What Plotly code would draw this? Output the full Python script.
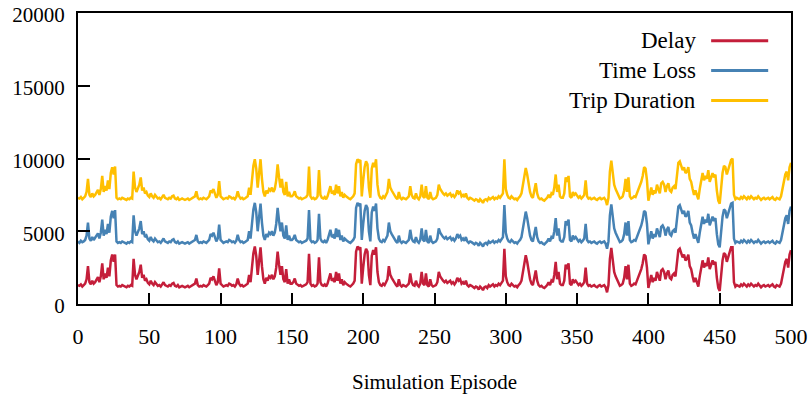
import plotly.graph_objects as go

episodes = list(range(0, 501))

delay = [
    1300, 1250, 1350, 1200, 1300, 1400, 1700, 2600, 1500, 1350,
    1600, 1400, 1500, 1700, 1850, 1500, 1900, 2800, 1700, 2100,
    1800, 2500, 1900, 3000, 3400, 2900, 3400, 1300, 1200, 1250,
    1200, 1300, 1250, 1200, 1150, 1250, 1200, 1300, 1250, 3100,
    2000, 1700, 1900, 2200, 2700, 1800, 2000, 1600, 1700, 1450,
    1350, 1600, 1400, 1300, 1500, 1350, 1250, 1300, 1200, 1350,
    1500, 1300, 1250, 1200, 1300, 1250, 1400, 1450, 1250, 1200,
    1300, 1150, 1200, 1250, 1200, 1150, 1200, 1250, 1150, 1200,
    1250, 1300, 1400, 1750, 1300, 1200, 1250, 1200, 1300, 1250,
    1200, 1300, 1400, 1800, 1700, 1900, 1600, 1300, 1500, 2450,
    1400, 1300, 1200, 1250, 1300, 1250, 1400, 1350, 1250, 1300,
    1200, 1350, 1750, 1400, 1250, 1300, 1200, 1250, 1300, 1400,
    2000, 1500, 2500, 3500, 3950, 3300, 2000, 3000, 3900, 2600,
    1700, 1400, 1800, 1600, 1900, 1800, 2000, 1700, 1900, 2500,
    3600, 2700, 2000, 2600, 1700, 1500, 2400, 1400, 1700, 1400,
    1400, 1500, 1750, 1400, 1300, 1250, 1300, 1200, 1250, 1300,
    1350, 1500, 3450, 1400, 1250, 1300, 1200, 1250, 1400, 3200,
    1500, 1300, 1250, 1350, 1200, 1400, 1800, 2100, 1600, 1700,
    1500, 2200, 1600, 2100, 1400, 1700, 1300, 1500, 1400, 1300,
    1250, 1200, 1300, 1400, 1600, 3600, 3950, 3800, 3900, 1400,
    2500, 3400, 3800, 3600, 2000, 1300, 3300, 3700, 3400, 3900,
    2200, 1500, 1300, 1250, 1400, 1300, 1500, 1700, 2600, 2000,
    1800, 1600, 1400, 1300, 1200, 1700, 1300, 1200, 1300, 1250,
    1200, 1300, 1400, 2100, 1500, 1300, 1250, 1600, 1300, 1200,
    1400, 2200, 1400, 1300, 2100, 1300, 1200, 1700, 1300, 1200,
    1250, 1300, 1500, 2200, 1900, 1700, 1600, 1500, 1600, 1450,
    1500, 1600, 1400, 1500, 1350, 1500, 1800, 1600, 1700, 1400,
    1500, 1350, 1600, 1300, 1200, 1300, 1250, 1200, 1100, 1200,
    1150, 1000, 1200, 1100, 950, 1150, 1200, 1100, 1300, 1200,
    1250, 1350, 1200, 1300, 1250, 1400, 1300, 1500, 1600, 3800,
    1900, 1500, 1300, 1250, 1400, 1300, 1200, 1250, 1150, 1300,
    1400, 1600, 2200, 3000, 3350, 2900, 2200, 1700, 1400, 1300,
    1800, 2300, 1600, 1300, 1200, 1250, 1150, 1100, 1200, 1300,
    1500, 1300, 1600, 1500, 2000, 2900, 1700, 2200, 1400, 1300,
    1300, 1600, 2700, 2400, 2800, 1400, 1300, 1700, 1500, 1600,
    1450, 1300, 1400, 1250, 1350, 1500, 2500, 1400, 1250, 1300,
    1200, 1250, 1300, 1200, 1150, 1250, 1300, 1200, 1250, 1300,
    1150, 800, 1300, 3100, 3850, 2800, 2200, 1900, 1700, 1400,
    1250, 1300, 1400, 1800, 2600, 1700, 2700, 1400, 1250, 1300,
    1400, 1350, 1600, 1900, 2200, 2400, 2800, 3400, 3300, 2500,
    1100, 1600, 2000, 1500, 1800, 1600, 2200, 1900, 1600, 2300,
    2400, 2200, 1700, 2100, 2300, 1800, 1700, 2000, 2100, 1900,
    3000, 3700, 3800, 3500, 3200, 3400, 3000, 3100, 3400, 2600,
    2400, 1900, 1500, 1800, 1400, 1200, 1900, 2400, 3000, 2500,
    2800, 2600, 3200, 2400, 2800, 3000, 2700, 2900, 1800, 1100,
    900, 2200, 3000, 3500, 3400, 2900, 3200, 3600, 3900, 3900,
    1500, 1200, 1300, 1250, 1200, 1350, 1250, 1400, 1300, 1200,
    1350, 1250, 1400, 1300, 1200, 1300, 1250, 1400, 1300, 1150,
    1250, 1300, 1200, 1250, 1300, 1200, 1250, 1350, 1200, 1150,
    1300, 1250, 1200, 1400, 2000, 2300, 2900, 3100, 2500, 3400,
    3700,
]

time_loss = [
    4300, 4200, 4350, 4250, 4300, 4400, 4700, 5600, 4500, 4350,
    4600, 4400, 4550, 4700, 4850, 4500, 4900, 5800, 4700, 5100,
    4800, 5500, 4900, 6000, 6400, 5900, 6450, 4300, 4200, 4250,
    4200, 4300, 4250, 4200, 4150, 4250, 4200, 4300, 4250, 6100,
    5000, 4700, 4900, 5200, 5700, 4800, 5000, 4600, 4700, 4450,
    4350, 4600, 4400, 4300, 4500, 4350, 4250, 4300, 4200, 4350,
    4500, 4300, 4250, 4200, 4300, 4250, 4400, 4450, 4250, 4200,
    4300, 4150, 4200, 4250, 4200, 4150, 4200, 4250, 4150, 4200,
    4250, 4300, 4400, 4750, 4300, 4200, 4250, 4200, 4300, 4250,
    4200, 4300, 4400, 4800, 4700, 4900, 4600, 4300, 4500, 5450,
    4400, 4300, 4200, 4250, 4300, 4250, 4400, 4350, 4250, 4300,
    4200, 4350, 4750, 4400, 4250, 4300, 4200, 4250, 4300, 4400,
    5000, 4500, 5500, 6500, 6950, 6300, 5000, 6000, 6900, 5600,
    4700, 4400, 4800, 4600, 4900, 4800, 5000, 4700, 4900, 5500,
    6600, 5700, 5000, 5600, 4700, 4500, 5400, 4400, 4700, 4400,
    4400, 4500, 4750, 4400, 4300, 4250, 4300, 4200, 4250, 4300,
    4350, 4500, 6450, 4400, 4250, 4300, 4200, 4250, 4400, 6200,
    4500, 4300, 4250, 4350, 4200, 4400, 4800, 5100, 4600, 4700,
    4500, 5200, 4600, 5100, 4400, 4700, 4300, 4500, 4400, 4300,
    4250, 4200, 4300, 4400, 4600, 6600, 6950, 6800, 6900, 4400,
    5500, 6400, 6800, 6600, 5000, 4300, 6300, 6700, 6400, 6900,
    5200, 4500, 4300, 4250, 4400, 4300, 4500, 4700, 5600, 5000,
    4800, 4600, 4400, 4300, 4200, 4700, 4300, 4200, 4300, 4250,
    4200, 4300, 4400, 5100, 4500, 4300, 4250, 4600, 4300, 4200,
    4400, 5200, 4400, 4300, 5100, 4300, 4200, 4700, 4300, 4200,
    4250, 4300, 4500, 5200, 4900, 4700, 4600, 4500, 4600, 4450,
    4500, 4600, 4400, 4500, 4350, 4500, 4800, 4600, 4700, 4400,
    4500, 4350, 4600, 4300, 4200, 4300, 4250, 4200, 4100, 4200,
    4150, 4000, 4200, 4100, 3950, 4150, 4200, 4100, 4300, 4200,
    4250, 4350, 4200, 4300, 4250, 4400, 4300, 4500, 4600, 6800,
    4900, 4500, 4300, 4250, 4400, 4300, 4200, 4250, 4150, 4300,
    4400, 4600, 5200, 6000, 6350, 5900, 5200, 4700, 4400, 4300,
    4800, 5300, 4600, 4300, 4200, 4250, 4150, 4100, 4200, 4300,
    4500, 4300, 4600, 4500, 5000, 5900, 4700, 5200, 4400, 4300,
    4300, 4600, 5700, 5400, 5800, 4400, 4300, 4700, 4500, 4600,
    4450, 4300, 4400, 4250, 4350, 4500, 5500, 4400, 4250, 4300,
    4200, 4250, 4300, 4200, 4150, 4250, 4300, 4200, 4250, 4300,
    4150, 3800, 4300, 6100, 6850, 5800, 5200, 4900, 4700, 4400,
    4250, 4300, 4400, 4800, 5600, 4700, 5700, 4400, 4250, 4300,
    4400, 4350, 4600, 4900, 5200, 5400, 5800, 6400, 6300, 5500,
    4100, 4600, 5000, 4500, 4800, 4600, 5200, 4900, 4600, 5300,
    5400, 5200, 4700, 5100, 5300, 4800, 4700, 5000, 5100, 4900,
    6000, 6700, 6800, 6500, 6200, 6400, 6000, 6100, 6400, 5600,
    5400, 4900, 4500, 4800, 4400, 4200, 4900, 5400, 6000, 5500,
    5800, 5600, 6200, 5400, 5800, 6000, 5700, 5900, 4800, 4100,
    3900, 5200, 6000, 6500, 6400, 5900, 6200, 6600, 6900, 6950,
    4500, 4200, 4300, 4250, 4200, 4350, 4250, 4400, 4300, 4200,
    4350, 4250, 4400, 4300, 4200, 4300, 4250, 4400, 4300, 4150,
    4250, 4300, 4200, 4250, 4300, 4200, 4250, 4350, 4200, 4150,
    4300, 4250, 4200, 4400, 5000, 5300, 5900, 6100, 5500, 6400,
    6700,
]

trip_duration = [
    7300, 7250, 7350, 7200, 7300, 7400, 7700, 8600, 7500, 7350,
    7600, 7400, 7500, 7700, 7850, 7500, 7900, 8800, 7700, 8100,
    7800, 8500, 7900, 9000, 9400, 8900, 9450, 7300, 7200, 7250,
    7200, 7300, 7250, 7200, 7150, 7250, 7200, 7300, 7250, 9100,
    8000, 7700, 7900, 8200, 8700, 7800, 8000, 7600, 7700, 7450,
    7350, 7600, 7400, 7300, 7500, 7350, 7250, 7300, 7200, 7350,
    7500, 7300, 7250, 7200, 7300, 7250, 7400, 7450, 7250, 7200,
    7300, 7150, 7200, 7250, 7200, 7150, 7200, 7250, 7150, 7200,
    7250, 7300, 7400, 7750, 7300, 7200, 7250, 7200, 7300, 7250,
    7200, 7300, 7400, 7800, 7700, 7900, 7600, 7300, 7500, 8450,
    7400, 7300, 7200, 7250, 7300, 7250, 7400, 7350, 7250, 7300,
    7200, 7350, 7750, 7400, 7250, 7300, 7200, 7250, 7300, 7400,
    8000, 7500, 8500, 9500, 9950, 9300, 8000, 9000, 9950, 8600,
    7700, 7400, 7800, 7600, 7900, 7800, 8000, 7700, 7900, 8500,
    9600, 8700, 8000, 8600, 7700, 7500, 8400, 7400, 7700, 7400,
    7400, 7500, 7750, 7400, 7300, 7250, 7300, 7200, 7250, 7300,
    7350, 7500, 9450, 7400, 7250, 7300, 7200, 7250, 7400, 9200,
    7500, 7300, 7250, 7350, 7200, 7400, 7800, 8100, 7600, 7700,
    7500, 8200, 7600, 8100, 7400, 7700, 7300, 7500, 7400, 7300,
    7250, 7200, 7300, 7400, 7600, 9600, 9950, 9800, 9900, 7400,
    8500, 9400, 9800, 9600, 8000, 7300, 9300, 9700, 9400, 9950,
    8200, 7500, 7300, 7250, 7400, 7300, 7500, 7700, 8600, 8000,
    7800, 7600, 7400, 7300, 7200, 7700, 7300, 7200, 7300, 7250,
    7200, 7300, 7400, 8100, 7500, 7300, 7250, 7600, 7300, 7200,
    7400, 8200, 7400, 7300, 8100, 7300, 7200, 7700, 7300, 7200,
    7250, 7300, 7500, 8200, 7900, 7700, 7600, 7500, 7600, 7450,
    7500, 7600, 7400, 7500, 7350, 7500, 7800, 7600, 7700, 7400,
    7500, 7350, 7600, 7300, 7200, 7300, 7250, 7200, 7100, 7200,
    7150, 7000, 7200, 7100, 6950, 7150, 7200, 7100, 7300, 7200,
    7250, 7350, 7200, 7300, 7250, 7400, 7300, 7500, 7600, 9950,
    7900, 7500, 7300, 7250, 7400, 7300, 7200, 7250, 7150, 7300,
    7400, 7600, 8200, 9000, 9350, 8900, 8200, 7700, 7400, 7300,
    7800, 8300, 7600, 7300, 7200, 7250, 7150, 7100, 7200, 7300,
    7500, 7300, 7600, 7500, 8000, 8900, 7700, 8200, 7400, 7300,
    7300, 7600, 8700, 8400, 8800, 7400, 7300, 7700, 7500, 7600,
    7450, 7300, 7400, 7250, 7350, 7500, 8500, 7400, 7250, 7300,
    7200, 7250, 7300, 7200, 7150, 7250, 7300, 7200, 7250, 7300,
    7150, 6800, 7300, 9100, 9850, 8800, 8200, 7900, 7700, 7400,
    7250, 7300, 7400, 7800, 8600, 7700, 8700, 7400, 7250, 7300,
    7400, 7350, 7600, 7900, 8200, 8400, 8800, 9400, 9300, 8500,
    7100, 7600, 8000, 7500, 7800, 7600, 8200, 7900, 7600, 8300,
    8400, 8200, 7700, 8100, 8300, 7800, 7700, 8000, 8100, 7900,
    9000, 9700, 9800, 9500, 9200, 9400, 9000, 9100, 9400, 8600,
    8400, 7900, 7500, 7800, 7400, 7200, 7900, 8400, 9000, 8500,
    8800, 8600, 9200, 8400, 8800, 9000, 8700, 8900, 7800, 7100,
    6900, 8200, 9000, 9500, 9400, 8900, 9200, 9600, 9900, 10000,
    7500, 7200, 7300, 7250, 7200, 7350, 7250, 7400, 7300, 7200,
    7350, 7250, 7400, 7300, 7200, 7300, 7250, 7400, 7300, 7150,
    7250, 7300, 7200, 7250, 7300, 7200, 7250, 7350, 7200, 7150,
    7300, 7250, 7200, 7400, 8000, 8300, 8900, 9100, 8500, 9400,
    9700,
]

series_names = ["Delay", "Time Loss", "Trip Duration"]
series_colors = ["#C41E3A", "#4682B4", "#FFBF00"]
x_ticks = [0, 50, 100, 150, 200, 250, 300, 350, 400, 450, 500]
y_ticks = [0, 5000, 10000, 15000, 20000]

FONT = "Liberation Serif"

fig = go.Figure()
for name, vals, col in zip(series_names, [delay, time_loss, trip_duration], series_colors):
    fig.add_trace(go.Scatter(x=episodes, y=vals, mode="lines", name=name,
                             line=dict(color=col, width=2.5), showlegend=False))

axis_common = dict(
    showline=True, linewidth=2, linecolor="black", mirror=True,
    ticks="inside", tickcolor="black", tickwidth=1.5,
    showgrid=False, zeroline=False, ticklabeloverflow="allow",
)

fig.update_layout(
    width=811, height=400,
    margin=dict(l=78, r=20, t=13, b=96, autoexpand=False),
    paper_bgcolor="white", plot_bgcolor="white",
    font=dict(family=FONT, size=22, color="black"),
    xaxis=dict(range=[0, 500], tickvals=x_ticks, ticktext=[str(v) for v in x_ticks],
               ticklen=11, ticklabelstandoff=12,
               tickfont=dict(family=FONT, size=22, color="black"),
               title=dict(text="Simulation Episode", font=dict(family=FONT, size=21, color="black"), standoff=26),
               **axis_common),
    yaxis=dict(range=[0, 20000], tickvals=y_ticks, ticktext=[str(v) for v in y_ticks],
               ticklen=12, ticklabelstandoff=7, ticklabelshift=2,
               tickfont=dict(family=FONT, size=21, color="black"),
               **axis_common),
)

# manual legend (text on the left, line sample on the right)
legend_y = [0.905, 0.802, 0.699]
for name, col, yy in zip(series_names, series_colors, legend_y):
    fig.add_annotation(x=0.870, y=yy, xref="paper", yref="paper", text=name,
                       showarrow=False, xanchor="right", yanchor="middle",
                       font=dict(family=FONT, size=23, color="black"))
    fig.add_shape(type="line", xref="paper", yref="paper", x0=0.888, x1=0.968,
                  y0=yy, y1=yy, line=dict(color=col, width=3))

fig.write_html("out.html", config={"displayModeBar": False},
               post_script="document.body.style.margin='0';")
